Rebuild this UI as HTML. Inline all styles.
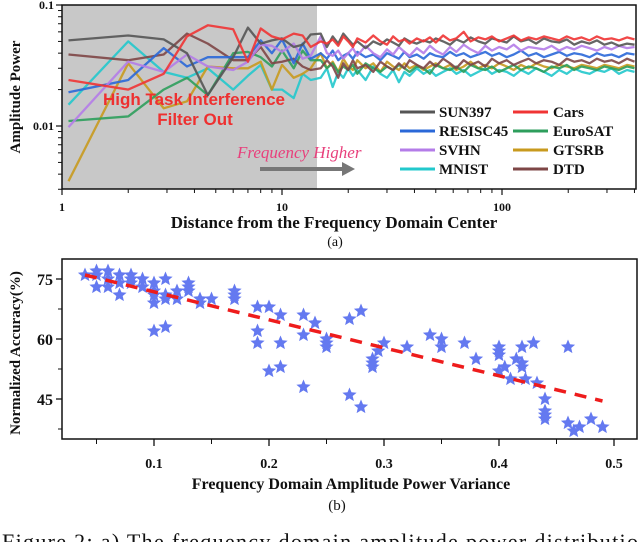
<!DOCTYPE html>
<html><head><meta charset="utf-8"><style>
html,body{margin:0;padding:0;background:#fff;width:640px;height:542px;overflow:hidden}
svg{display:block}
text{font-family:"Liberation Serif",serif}
</style></head><body>
<svg id="fig" width="640" height="542" viewBox="0 0 640 542">
<g id="topg"></g>
<g id="botg"></g>
<text x="2" y="549" font-size="22" fill="#111" textLength="636" lengthAdjust="spacing">Figure 2: a) The frequency domain amplitude power distributio</text>
</svg>
<script>
// ---------- Chart (a) data ----------
const seriesNames = ["SUN397","Cars","RESISC45","EuroSAT","SVHN","GTSRB","MNIST","DTD"];
const lowX = [1.07,2,2.9,3.7,4.6,6,7,8,9,10,11.3,12.4,13.5];
const highX = [15,16,17,18,19,20,21,22,24,26,28,30,32,34,36,38,41,44,47,50,54,58,62,67,72,78,84,90,97,105,113,122,132,143,155,168,182,197,213,230,250,270,292,315,340,370,400];
const sunLow = [.051,.056,.052,.040,.018,.037,.065,.048,.051,.053,.045,.047,.057];
const sunHigh = [.058,.045,.055,.048,.058,.052,.047,.05,.044,.05,.047,.052,.049,.046,.053,.05,.048,.051,.049,.053,.05,.047,.052,.049,.054,.05,.048,.053,.051,.049,.055,.05,.052,.048,.053,.05,.049,.052,.047,.05,.048,.051,.047,.049,.046,.048,.047];
const carsLow = [.024,.020,.027,.055,.068,.063,.034,.064,.055,.052,.058,.056,.045];
const carsHigh = [.05,.048,.052,.046,.055,.05,.045,.053,.049,.056,.05,.047,.055,.05,.052,.048,.053,.05,.054,.049,.056,.051,.053,.06,.05,.054,.052,.055,.05,.053,.056,.051,.054,.052,.055,.053,.051,.055,.052,.054,.051,.055,.052,.053,.051,.054,.052];
const resLow = [.019,.024,.044,.031,.037,.037,.037,.051,.040,.052,.033,.048,.036];
const resHigh = [.04,.036,.042,.035,.038,.04,.036,.041,.037,.039,.035,.04,.038,.036,.041,.037,.039,.036,.04,.038,.037,.041,.038,.04,.037,.039,.041,.038,.04,.037,.039,.042,.038,.04,.037,.039,.041,.038,.04,.039,.037,.04,.038,.039,.037,.04,.039];
const euroLow = [.011,.012,.020,.025,.018,.040,.041,.037,.031,.042,.030,.042,.035];
const euroHigh = [.035,.03,.033,.028,.031,.029,.032,.027,.033,.03,.028,.031,.029,.032,.03,.028,.031,.03,.027,.032,.03,.029,.031,.028,.032,.03,.029,.031,.028,.03,.032,.029,.031,.03,.028,.031,.03,.032,.029,.031,.03,.029,.031,.03,.029,.031,.03];
const svhnLow = [.0098,.034,.028,.039,.031,.029,.034,.047,.046,.041,.048,.036,.038];
const svhnHigh = [.055,.04,.038,.042,.036,.04,.044,.038,.046,.04,.037,.043,.039,.045,.041,.038,.044,.04,.046,.042,.039,.045,.041,.047,.043,.04,.046,.042,.045,.043,.047,.042,.045,.044,.043,.046,.042,.045,.043,.046,.044,.042,.045,.043,.046,.044,.045];
const gtsrbLow = [.0035,.033,.014,.016,.031,.030,.030,.034,.020,.032,.025,.027,.030];
const gtsrbHigh = [.04,.03,.034,.028,.036,.031,.029,.035,.03,.033,.028,.034,.031,.029,.033,.03,.032,.029,.031,.033,.03,.032,.029,.031,.034,.03,.032,.03,.033,.031,.029,.032,.03,.033,.031,.03,.032,.031,.03,.032,.031,.03,.032,.031,.03,.032,.031];
const mnistLow = [.015,.050,.028,.025,.030,.020,.026,.032,.020,.020,.017,.027,.024];
const mnistHigh = [.025,.03,.021,.028,.025,.03,.026,.029,.024,.031,.027,.025,.029,.023,.028,.026,.03,.027,.029,.026,.028,.03,.027,.029,.026,.028,.03,.027,.029,.028,.026,.029,.027,.03,.028,.026,.029,.027,.03,.028,.027,.029,.028,.03,.027,.029,.028];
const dtdLow = [.039,.035,.039,.058,.048,.035,.035,.045,.033,.034,.036,.031,.029];
const dtdHigh = [.03,.035,.031,.025,.033,.029,.035,.03,.032,.028,.034,.031,.029,.033,.03,.035,.032,.03,.034,.031,.036,.033,.03,.035,.032,.034,.031,.036,.033,.035,.032,.034,.036,.033,.035,.034,.032,.036,.034,.035,.033,.036,.034,.035,.033,.036,.034];
const xTickLabels = ["1","10","100"];
const yTickLabels = ["0.01","0.1"];

// ---------- Chart (b) data ----------
const varianceX = [0.04,0.05,0.05,0.05,0.06,0.06,0.06,0.07,0.07,0.07,0.08,0.08,0.08,0.09,0.09,0.10,0.10,0.10,0.10,0.10,0.11,0.11,0.11,0.11,0.12,0.12,0.13,0.13,0.13,0.14,0.14,0.15,0.17,0.17,0.17,0.19,0.19,0.19,0.20,0.20,0.21,0.21,0.21,0.23,0.23,0.23,0.24,0.25,0.25,0.25,0.27,0.27,0.28,0.28,0.29,0.29,0.29,0.295,0.30,0.32,0.34,0.35,0.35,0.37,0.38,0.40,0.40,0.40,0.40,0.405,0.41,0.415,0.42,0.42,0.42,0.423,0.43,0.433,0.44,0.44,0.44,0.44,0.46,0.46,0.465,0.47,0.48,0.49];
const accuracyY = [76,77,76,73,77,75,73,76,74,71,76,75,74,75,73,74,72,71,69,62,75,71,70,63,72,70,74,73,72,70,69,70,72,71,70,68,62,59,68,52,66,59,53,66,61,48,64,60,59,58,65,46,67,43,55,54,53,57,59,58,61,60,58,59,55,58,57,56,52,53,50,55,58,54,53,50,59,49,45,42,41,40,58,39,37,38,40,38];
const trendX = [0.04,0.49];
const trendY = [76,44.5];
const bxTickLabels = ["0.1","0.2","0.3","0.4","0.5"];
const byTickLabels = ["45","60","75"];

const NS="http://www.w3.org/2000/svg";
function mk(tag,attrs,parent){const e=document.createElementNS(NS,tag);for(const k in attrs)e.setAttribute(k,attrs[k]);parent.appendChild(e);return e;}

// ===== chart a =====
const topG=document.getElementById('topg');
const aL=62,aR=636,aT=5,aB=189;
const decX=220, decY=121;
const ax=v=>aL+Math.log10(v)*decX;
const ay=v=>aT+(-1-Math.log10(v))*decY;
let r=mk('rect',{x:aL,y:aT,width:317-aL,height:aB-aT,fill:'#c8c8c8'},topG);



const colors=["#555555","#f03434","#2a68d8","#2e9e5c","#b47ce8","#c89a1e","#22c8cc","#7e4646"];
const lows=[sunLow,carsLow,resLow,euroLow,svhnLow,gtsrbLow,mnistLow,dtdLow];
const highs=[sunHigh,carsHigh,resHigh,euroHigh,svhnHigh,gtsrbHigh,mnistHigh,dtdHigh];
const order=[6,5,3,7,2,4,0,1];
order.forEach(i=>{
  const xs=lowX.concat(highX), ys=lows[i].concat(highs[i]);
  const d=xs.map((x,j)=>(j?'L':'M')+Math.min(ax(x),aR).toFixed(1)+','+ay(ys[j]).toFixed(1)).join('');
  const p=mk('path',{d:d,fill:'none',stroke:colors[i],'stroke-width':2.3,'stroke-linejoin':'round','stroke-opacity':0.9},topG);
  
  
});

let t=mk('text',{x:194,y:105,'font-size':17,'font-weight':'bold',fill:'#ee3030','text-anchor':'middle',style:'font-family:"Liberation Sans",sans-serif'},topG);
t.textContent='High Task Interference';


t=mk('text',{x:195,y:125,'font-size':17,'font-weight':'bold',fill:'#ee3030','text-anchor':'middle',style:'font-family:"Liberation Sans",sans-serif'},topG);
t.textContent='Filter Out';


t=mk('text',{x:237,y:158,'font-size':17,'font-style':'italic',fill:'#e8407c'},topG);
t.textContent='Frequency Higher';


let ar=mk('path',{d:'M260,169L344,169',stroke:'#777','stroke-width':4},topG);


ar=mk('path',{d:'M342,162L355,169L342,176Z',fill:'#777'},topG);



seriesNames.forEach((n,i)=>{
  const col=i%2,row=Math.floor(i/2);
  const lx=col?513:400, tx=col?553:439, yy=112+row*19;
  const l=mk('line',{x1:lx,x2:lx+35,y1:yy,y2:yy,stroke:colors[i],'stroke-width':3},topG);
  
  
  const tt=mk('text',{x:tx,y:yy+5,'font-size':15,'font-weight':'bold',fill:'#111'},topG);
  tt.textContent=n;
  
  
});

let fr=mk('rect',{x:aL,y:aT,width:aR-aL,height:aB-aT,fill:'none',stroke:'#111','stroke-width':1.5},topG);


xTickLabels.forEach(s=>{
  const v=parseFloat(s),x=ax(v);
  mk('line',{x1:x,x2:x,y1:aB,y2:aB+6,stroke:'#111','stroke-width':1.2},topG);
  const tl=mk('text',{x:x,y:211,'font-size':12,'font-weight':'bold','text-anchor':'middle',fill:'#111'},topG);
  tl.textContent=s;
  
  
});
for(let d=1;d<=100;d*=10)for(let m=2;m<=9;m++){const v=d*m;if(ax(v)<aR)mk('line',{x1:ax(v),x2:ax(v),y1:aB,y2:aB+4,stroke:'#111'},topG);}
yTickLabels.forEach(s=>{
  const v=parseFloat(s),y=ay(v);
  mk('line',{x1:aL-6,x2:aL,y1:y,y2:y,stroke:'#111','stroke-width':1.2},topG);
  const tl=mk('text',{x:aL-8,y:y+4,'font-size':12,'font-weight':'bold','text-anchor':'end',fill:'#111'},topG);
  tl.textContent=s;
  
  
});
[0.003,0.004,0.005,0.006,0.007,0.008,0.009,0.02,0.03,0.04,0.05,0.06,0.07,0.08,0.09].forEach(v=>mk('line',{x1:aL-4,x2:aL,y1:ay(v),y2:ay(v),stroke:'#111'},topG));
t=mk('text',{x:0,y:0,'font-size':15,'font-weight':'bold','text-anchor':'middle',fill:'#111',transform:'translate(20,97) rotate(-90)'},topG);
t.textContent='Amplitude Power';


t=mk('text',{x:334,y:228,'font-size':17,'font-weight':'bold','text-anchor':'middle',fill:'#111'},topG);
t.textContent='Distance from the Frequency Domain Center';


t=mk('text',{x:335,y:246,'font-size':14,'text-anchor':'middle',fill:'#111'},topG);
t.textContent='(a)';



// ===== chart b =====
const botG=document.getElementById('botg');
const bL=62,bR=637,bT=259,bB=439;
const bx=v=>39+v*1150;
const by=v=>279+(75-v)*4;
fr=mk('rect',{x:bL,y:bT,width:bR-bL,height:bB-bT,fill:'none',stroke:'#111','stroke-width':1.5},botG);


function star(cx,cy,R){let p=[];for(let k=0;k<10;k++){const a=-Math.PI/2+k*Math.PI/5,rr=k%2?R*0.45:R;p.push((cx+rr*Math.cos(a)).toFixed(1)+','+(cy+rr*Math.sin(a)).toFixed(1));}return p.join(' ');}
varianceX.forEach((v,i)=>{
  const s=mk('polygon',{points:star(bx(v),by(accuracyY[i]),7.5),fill:'#6479f0'},botG);
  
  
});
let tr=mk('line',{x1:bx(trendX[0]),y1:by(trendY[0]),x2:bx(trendX[1]),y2:by(trendY[1]),stroke:'#ee1c1c','stroke-width':3.5,'stroke-dasharray':'12 9'},botG);


bxTickLabels.forEach(s=>{
  const x=bx(parseFloat(s));
  mk('line',{x1:x,x2:x,y1:bB,y2:bB+7,stroke:'#111','stroke-width':1.3},botG);
  const tl=mk('text',{x:x,y:468,'font-size':14,'font-weight':'bold','text-anchor':'middle',fill:'#111'},botG);
  tl.textContent=s;
  
  
});
[0.05,0.15,0.25,0.35,0.45].forEach(v=>mk('line',{x1:bx(v),x2:bx(v),y1:bB,y2:bB+5,stroke:'#111'},botG));
byTickLabels.forEach(s=>{
  const y=by(parseFloat(s));
  mk('line',{x1:bL-6,x2:bL,y1:y,y2:y,stroke:'#111','stroke-width':1.3},botG);
  const tl=mk('text',{x:bL-9,y:y+6,'font-size':16,'font-weight':'bold','text-anchor':'end',fill:'#111'},botG);
  tl.textContent=s;
  
  
});
[37.5,52.5,67.5].forEach(v=>mk('line',{x1:bL-4,x2:bL,y1:by(v),y2:by(v),stroke:'#111'},botG));
t=mk('text',{x:0,y:0,'font-size':15,'font-weight':'bold','text-anchor':'middle',fill:'#111',transform:'translate(20,353) rotate(-90)'},botG);
t.textContent='Normalized Accuracy(%)';


t=mk('text',{x:351,y:489,'font-size':16,'font-weight':'bold','text-anchor':'middle',fill:'#111'},botG);
t.textContent='Frequency Domain Amplitude Power Variance';


t=mk('text',{x:337,y:510,'font-size':15,'text-anchor':'middle',fill:'#111'},botG);
t.textContent='(b)';


</script>
</body></html>
